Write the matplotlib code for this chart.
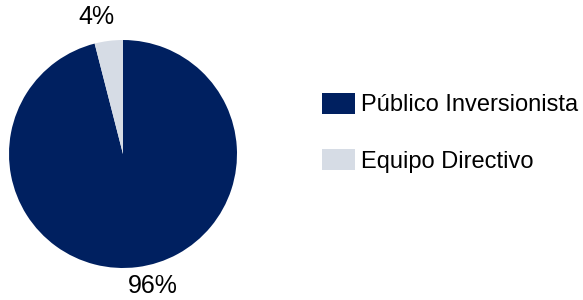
import matplotlib.pyplot as plt

labels = ['Público Inversionista', 'Equipo Directivo']
shares = [96, 4]
colors = ['#002060', '#D6DCE5']

plt.rcParams['font.family'] = ['Liberation Sans', 'DejaVu Sans']

fig = plt.figure(figsize=(5.83, 3.0), dpi=100)
W, H = 583, 300
# pie box in pixels: x 9..237, y (top-down) 40..268
ax = fig.add_axes([9 / W, (H - 268) / H, 228 / W, 228 / H])

wedges, texts = ax.pie(shares, colors=colors, startangle=90, counterclock=False,
                       labels=[f'{s}%' for s in shares], labeldistance=1.2,
                       textprops={'fontsize': 18, 'color': '#000000'},
                       wedgeprops={'linewidth': 0})
# excel-style label placement (slightly off the wedge bisector)
texts[0].set_position((0.26, -1.16))
texts[1].set_position((-0.23, 1.20))
for t in texts:
    t.set_ha('center')
    t.set_va('center')
ax.set_xlim(-1, 1)
ax.set_ylim(-1, 1)
ax.set_aspect('equal')

leg = ax.legend(wedges, labels, loc='upper left',
                bbox_to_anchor=(322 / W, 1 - 93 / H), bbox_transform=fig.transFigure,
                frameon=False, fontsize=17, handlelength=1.4, handleheight=0.97,
                handletextpad=0.25, labelspacing=1.4, borderpad=0, borderaxespad=0)

fig.savefig('out.png', dpi=100)
